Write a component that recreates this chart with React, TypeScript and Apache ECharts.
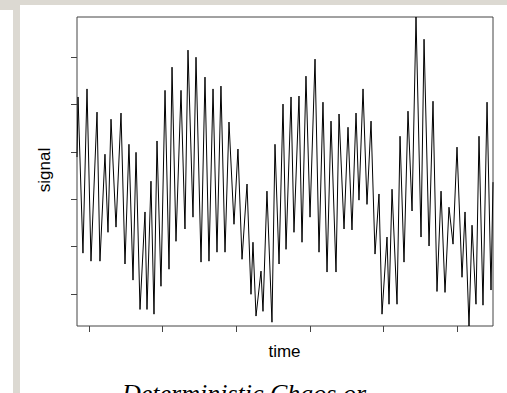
import React, { useEffect, useRef } from "react";
import * as echarts from "echarts";

// time positions of the signal's turning points
const time = [
  -16.3, -14.9, -8.2, -2.7, 2.7, 10.9, 14.9, 21.7, 25.8, 29.9,
  36.7, 43.5, 48.9, 54.3, 59.8, 63.9, 69.3, 76.1, 78.8, 84.2,
  88.3, 92.4, 97.8, 103.3, 108.7, 112.8, 118.2, 125.0, 130.4, 134.5,
  141.3, 145.4, 152.2, 157.6, 163.0, 168.5, 173.9, 179.3, 184.8, 190.2,
  197.0, 202.4, 207.9, 214.7, 220.1, 222.8, 226.9, 233.7, 236.4, 241.8,
  248.6, 252.7, 258.2, 263.6, 267.7, 274.5, 278.5, 285.3, 289.4, 294.8,
  300.3, 307.1, 312.5, 317.9, 323.4, 328.8, 335.6, 339.7, 346.5, 351.9,
  357.3, 362.8, 366.8, 372.3, 377.7, 383.2, 388.6, 394.0, 398.1, 404.9,
  407.6, 411.7, 418.5, 422.6, 428.0, 433.4, 438.9, 444.3, 451.1, 455.2,
  462.0, 467.4, 472.8, 478.3, 483.7, 489.1, 494.6, 500.0, 506.8, 510.9,
  516.3, 520.4, 525.8, 529.9, 535.3, 540.8, 546.2, 548.9,
];

const signal = [
  0.89, 2.16, -1.14, 2.33, -1.31, 1.84, -1.31, 0.95, -0.70, 1.69,
  -0.59, 1.82, -1.37, 1.16, -1.71, 0.99, -2.33, -0.27, -2.33, 0.38,
  -2.43, 1.23, -1.84, 2.30, -1.48, 2.79, -0.89, 2.30, -0.63, 3.15,
  -0.38, 3.00, -1.33, 2.58, -1.31, 2.33, -1.12, 2.39, -1.12, 1.63,
  -0.53, 1.06, -1.27, 0.32, -2.01, -0.91, -2.47, -1.52, -2.37, 0.17,
  -2.60, 1.16, -1.37, 2.01, -1.06, 2.16, -0.70, 2.18, -0.91, 2.60,
  -0.38, 2.96, -1.12, 2.05, -1.54, 1.65, -1.54, 1.80, -0.63, 1.52,
  -0.65, 1.82, -0.02, 2.33, -0.11, 1.65, -1.16, 0.11, -2.43, -0.80,
  -2.22, 0.21, -2.22, 1.33, -1.33, 1.86, -0.25, 3.85, -0.80, 3.38,
  -0.99, 2.07, -1.95, 0.17, -1.97, -0.17, -0.95, 1.10, -1.65, -0.27,
  -2.68, -0.55, -2.22, 1.33, -2.24, 2.05, -1.92, 0.36,
];

const xTicks = [0, 100, 200, 300, 400, 500];
const yTicks = [-2, -1, 0, 1, 2, 3];
const xRange = [-16.3, 548.9];
const yRange = [-2.68, 3.85];

const xLabel = "time";
const yLabel = "signal";
const caption = "Deterministic Chaos or";

export default function App() {
  const ref = useRef<HTMLDivElement>(null);
  useEffect(() => {
    const chart = echarts.init(ref.current!, null, { renderer: "svg" });
    const tickStyle = { color: "#444", width: 1 };
    chart.setOption({
      animation: false,
      backgroundColor: "#ffffff",
      grid: {
        left: 77,
        top: 17,
        width: 416,
        height: 309,
        show: true,
        borderColor: "#444",
        borderWidth: 1,
        backgroundColor: "transparent",
        containLabel: false,
      },
      xAxis: {
        type: "value",
        position: "bottom",
        min: xRange[0],
        max: xRange[1],
        axisLine: { show: false, onZero: false },
        splitLine: { show: false },
        axisLabel: { show: false },
        axisTick: { show: true, inside: false, length: 6, customValues: xTicks, lineStyle: tickStyle },
      },
      yAxis: {
        type: "value",
        position: "left",
        min: yRange[0],
        max: yRange[1],
        axisLine: { show: false, onZero: false },
        splitLine: { show: false },
        axisLabel: { show: false },
        axisTick: { show: true, inside: false, length: 6, customValues: yTicks, lineStyle: tickStyle },
      },
      series: [
        {
          type: "line",
          data: time.map((t, i) => [t, signal[i]]),
          symbol: "none",
          showSymbol: false,
          clip: false,
          lineStyle: { color: "#000", width: 1 },
        },
      ],
      graphic: [
        { type: "rect", shape: { x: 0, y: 0, width: 507, height: 5 }, style: { fill: "#dcd9d2" }, silent: true },
        { type: "rect", shape: { x: 0, y: 5, width: 20, height: 5 }, style: { fill: "#dcd9d2" }, silent: true },
        { type: "rect", shape: { x: 13, y: 10, width: 7, height: 383 }, style: { fill: "#dcd9d2" }, silent: true },
        {
          type: "text",
          x: 284.5,
          y: 351,
          style: { text: xLabel, fill: "#000", font: "17px 'Liberation Sans', Arial, sans-serif", align: "center", verticalAlign: "middle" },
        },
        {
          type: "text",
          x: 44.5,
          y: 170,
          rotation: Math.PI / 2,
          style: { text: yLabel, fill: "#000", font: "17px 'Liberation Sans', Arial, sans-serif", align: "center", verticalAlign: "middle" },
        },
        {
          type: "text",
          x: 122,
          y: 380,
          style: { text: caption, fill: "#000", font: "italic 26px 'Liberation Serif', 'Times New Roman', serif", align: "left", verticalAlign: "top" },
        },
      ],
    });
    return () => chart.dispose();
  }, []);
  return (
    <div
      ref={ref}
      style={{ position: "absolute", left: 0, top: 0, width: 507, height: 393, background: "#fff" }}
    />
  );
}
